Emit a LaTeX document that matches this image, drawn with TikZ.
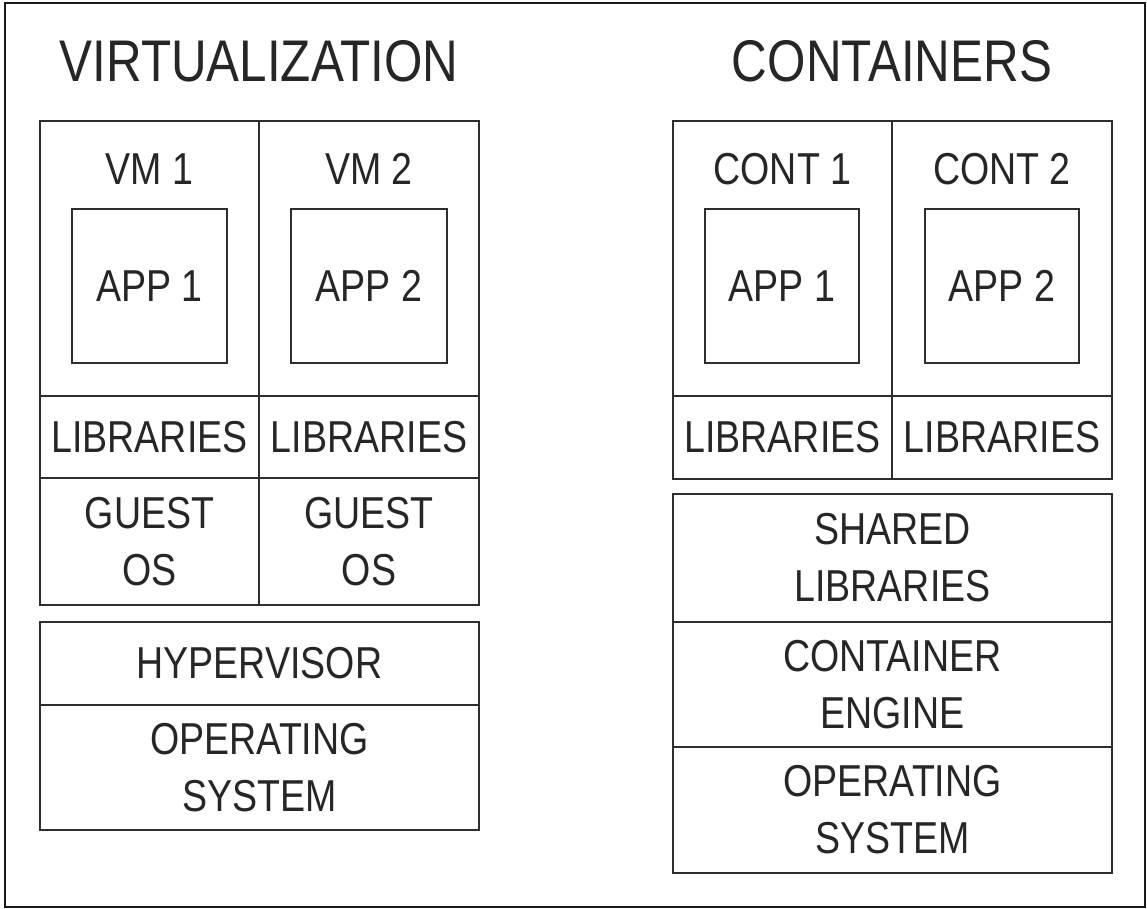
\documentclass[tikz,border=0pt]{standalone}
\usepackage{fontspec}
\setmainfont{Liberation Sans}[FakeStretch=0.84]
\usetikzlibrary{positioning}
\definecolor{linegray}{HTML}{2E2E2E}
\definecolor{textgray}{HTML}{262626}
\tikzset{
	cell/.style 2 args={draw=linegray, line width=1.9pt, minimum width=#1*0.025cm, minimum height=#2*0.025cm, anchor=north west, inner sep=0pt, outer sep=0pt, align=center, text=textgray, font=\fontsize{31.8}{40.5}\selectfont},
	lbl/.style={inner sep=0pt, text=textgray, font=\fontsize{31.8}{40.5}\selectfont},
	heading/.style={inner sep=0pt, text=textgray, font=\fontsize{41.8}{50}\selectfont},
	frame/.style={draw=black!90, line width=2.1pt}
}

\begin{document}
\begin{tikzpicture}[x=0.025cm, y=-0.025cm]
	\useasboundingbox (0,0) rectangle (1147,909);
	\draw[frame] (5,3) rectangle (1145,907);

	\node[cell={219}{275}] (vm1) at (40,121) {};
	\node[cell={220}{275}] (vm2) at (vm1.north east) {};
	\node[heading, above=0.975cm of vm1.north east] (virt) {VIRTUALIZATION};
	\node[lbl, below=0.8cm of vm1.north] (vm1lbl) {VM 1};
	\node[lbl, below=0.8cm of vm2.north] (vm2lbl) {VM 2};
	\node[cell={155}{154}] (app1) at (72,209) {APP 1};
	\node[cell={156}{154}] (app2) at (291,209) {APP 2};
	\node[cell={219}{82}] (lib1) at (vm1.south west) {LIBRARIES};
	\node[cell={220}{82}] (lib2) at (vm2.south west) {LIBRARIES};
	\node[cell={219}{127}] (guest1) at (lib1.south west) {GUEST\\OS};
	\node[cell={220}{127}] (guest2) at (lib2.south west) {GUEST\\OS};
	\node[cell={439}{83}] (hyper) at (40,622) {HYPERVISOR};
	\node[cell={439}{125}] (hostos) at (hyper.south west) {OPERATING\\SYSTEM};

	\node[cell={219}{275}] (cont1) at (673,121) {};
	\node[cell={220}{275}] (cont2) at (cont1.north east) {};
	\node[heading, above=0.975cm of cont1.north east] (contr) {CONTAINERS};
	\node[lbl, below=0.8cm of cont1.north] (cont1lbl) {CONT 1};
	\node[lbl, below=0.8cm of cont2.north] (cont2lbl) {CONT 2};
	\node[cell={154}{154}] (capp1) at (705,209) {APP 1};
	\node[cell={154}{154}] (capp2) at (925,209) {APP 2};
	\node[cell={219}{83}] (clib1) at (cont1.south west) {LIBRARIES};
	\node[cell={220}{83}] (clib2) at (cont2.south west) {LIBRARIES};
	\node[cell={439}{128}] (shared) at (673,494) {SHARED\\LIBRARIES};
	\node[cell={439}{125}] (engine) at (shared.south west) {CONTAINER\\ENGINE};
	\node[cell={439}{126}] (cos) at (engine.south west) {OPERATING\\SYSTEM};
\end{tikzpicture}
\end{document}
